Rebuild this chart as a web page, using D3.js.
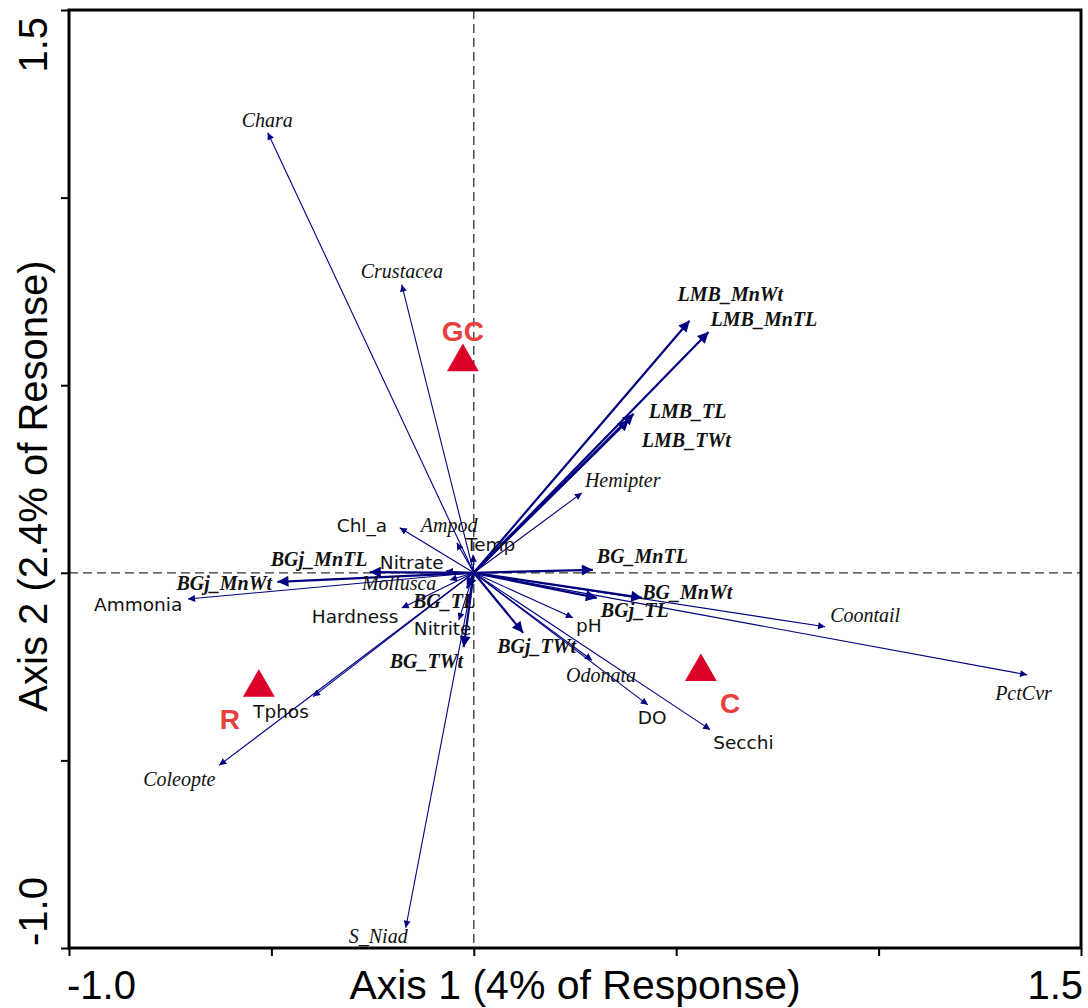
<!DOCTYPE html>
<html>
<head>
<meta charset="utf-8">
<script src="https://cdn.jsdelivr.net/npm/d3@7"></script>
<style>
  html, body { margin: 0; padding: 0; background: #fff; }
  svg { display: block; }
</style>
</head>
<body>
<svg id="chart" width="1088" height="1008"></svg>
<script>
// Biplot vectors: name, axis-1 score, axis-2 score, kind
// kind: "fish" = fish response (bold), "taxa" = invertebrate/plant taxa (italic), "env" = environmental variable
const vectorNames = [
  "Chara", "Crustacea", "LMB_MnWt", "LMB_MnTL", "LMB_TL", "LMB_TWt", "Hemipter",
  "Chl_a", "Ampod", "Temp", "Nitrate", "BGj_MnTL", "BGj_MnWt", "Ammonia", "Mollusca",
  "Hardness", "BG_TL", "Nitrite", "BG_TWt", "S_Niad", "Tphos", "Coleopte",
  "BG_MnTL", "BG_MnWt", "BGj_TL", "pH", "BGj_TWt", "Odonata", "DO", "Secchi",
  "Coontail", "PctCvr"
];
const axis1Scores = [
  -0.509, -0.178, 0.533, 0.580, 0.395, 0.383, 0.267,
  -0.183, -0.042, -0.002, -0.069, -0.257, -0.485, -0.706, -0.059,
  -0.178, -0.017, -0.037, -0.025, -0.168, -0.397, -0.629,
  0.294, 0.416, 0.304, 0.245, 0.122, 0.292, 0.430, 0.584,
  0.868, 1.367
];
const axis2Scores = [
  1.173, 0.768, 0.672, 0.642, 0.424, 0.408, 0.213,
  0.120, 0.080, 0.048, 0.005, 0.002, -0.024, -0.070, -0.019,
  -0.094, -0.041, -0.126, -0.198, -0.946, -0.330, -0.513,
  0.008, -0.067, -0.067, -0.120, -0.160, -0.233, -0.352, -0.418,
  -0.144, -0.272
];
const vectorKinds = [
  "taxa", "taxa", "fish", "fish", "fish", "fish", "taxa",
  "env", "taxa", "env", "env", "fish", "fish", "env", "taxa",
  "env", "fish", "env", "fish", "taxa", "env", "taxa",
  "fish", "fish", "fish", "env", "fish", "taxa", "env", "env",
  "taxa", "taxa"
];

// Site (group) centroids
const siteNames = ["GC", "C", "R"];
const siteAxis1 = [-0.027, 0.561, -0.531];
const siteAxis2 = [0.562, -0.264, -0.306];

// Axis settings
const axis1Domain = [-1.0, 1.5];
const axis2Domain = [-1.0, 1.5];
const tickValues = [-1.0, -0.5, 0, 0.5, 1.0, 1.5];
const endTickLabels = ["-1.0", "1.5"];
const axis1Title = "Axis 1 (4% of Response)";
const axis2Title = "Axis 2 (2.4% of Resonse)";

// Label placement (pixel offset from the arrow tip, text starts at this point)
const labelOffset = {
  Chara: [-26, -6], Crustacea: [-41, -7], LMB_MnWt: [-12, -20], LMB_MnTL: [2, -6],
  LMB_TL: [15, 4], LMB_TWt: [13, 27], Hemipter: [3, -6], Chl_a: [-63, 4],
  Ampod: [-36, -11], Temp: [-7, -4], Nitrate: [-66, -2], BGj_MnTL: [-99, -6],
  BGj_MnWt: [-101, 8], Ammonia: [-94, 12], Mollusca: [-88, 10], Hardness: [-90, 15],
  BG_TL: [-54, 20], Nitrite: [-45, 15], BG_TWt: [-74, 21], S_Niad: [-57, 15],
  Tphos: [-60, 21], Coleopte: [-76, 21], BG_MnTL: [4, -7], BG_MnWt: [0, 1],
  BGj_TL: [4, 19], pH: [3, 14], BGj_TWt: [-26, 20], Odonata: [-26, 22],
  DO: [-10, 19], Secchi: [3, 19], Coontail: [5, -5], PctCvr: [-32, 25]
};
const siteLabelOffset = { GC: [0, -21, "middle"], C: [19, 41, "start"], R: [-39, 41, "start"] };

const svg = d3.select("#chart");
const plot = { left: 69, right: 1081, top: 10, bottom: 948 };

const x = d3.scaleLinear().domain(axis1Domain).range([plot.left, plot.right]);
const y = d3.scaleLinear().domain(axis2Domain).range([plot.bottom, plot.top]);

const arrowColor = "#000080";

// Arrowhead markers
const defs = svg.append("defs");
defs.append("marker")
  .attr("id", "head-thin").attr("viewBox", "0 0 10 10")
  .attr("refX", 10).attr("refY", 5)
  .attr("markerUnits", "userSpaceOnUse")
  .attr("markerWidth", 11).attr("markerHeight", 7)
  .attr("orient", "auto")
  .append("path").attr("d", "M0,0 L10,5 L0,10 Z").attr("fill", arrowColor);
defs.append("marker")
  .attr("id", "head-bold").attr("viewBox", "0 0 10 10")
  .attr("refX", 10).attr("refY", 5)
  .attr("markerUnits", "userSpaceOnUse")
  .attr("markerWidth", 17).attr("markerHeight", 11)
  .attr("orient", "auto")
  .append("path").attr("d", "M0,0 L10,5 L0,10 Z").attr("fill", arrowColor);

// Zero reference lines
svg.append("line")
  .attr("x1", x(0)).attr("x2", x(0)).attr("y1", plot.top).attr("y2", plot.bottom)
  .attr("stroke", "#333").attr("stroke-width", 1.3).attr("stroke-dasharray", "9,5");
svg.append("line")
  .attr("x1", plot.left).attr("x2", plot.right).attr("y1", y(0)).attr("y2", y(0))
  .attr("stroke", "#333").attr("stroke-width", 1.3).attr("stroke-dasharray", "9,5");

// Vectors
const vectors = vectorNames.map((name, i) => ({
  name, a1: axis1Scores[i], a2: axis2Scores[i], kind: vectorKinds[i]
}));

svg.append("g").selectAll("line").data(vectors).join("line")
  .attr("x1", x(0)).attr("y1", y(0))
  .attr("x2", d => x(d.a1)).attr("y2", d => y(d.a2))
  .attr("stroke", arrowColor)
  .attr("stroke-width", d => d.kind === "fish" ? 2.2 : 1.1)
  .attr("marker-end", d => d.kind === "fish" ? "url(#head-bold)" : "url(#head-thin)");

svg.append("g").selectAll("text").data(vectors).join("text")
  .attr("x", d => x(d.a1) + labelOffset[d.name][0])
  .attr("y", d => y(d.a2) + labelOffset[d.name][1])
  .attr("fill", "#111")
  .attr("font-family", d => d.kind === "env" ? "'DejaVu Sans', sans-serif" : "'Liberation Serif', 'Times New Roman', serif")
  .attr("font-style", d => d.kind === "env" ? "normal" : "italic")
  .attr("font-weight", d => d.kind === "fish" ? "bold" : "normal")
  .attr("font-size", d => d.kind === "env" ? 18.5 : 20)
  .text(d => d.name);

// Site markers
const sites = siteNames.map((name, i) => ({ name, a1: siteAxis1[i], a2: siteAxis2[i] }));
const tri = d3.symbol().type(d3.symbolTriangle).size(440);
svg.append("g").selectAll("path").data(sites).join("path")
  .attr("transform", d => `translate(${x(d.a1)},${y(d.a2)})`)
  .attr("d", tri)
  .attr("fill", "#dc0028");
svg.append("g").selectAll("text").data(sites).join("text")
  .attr("x", d => x(d.a1) + siteLabelOffset[d.name][0])
  .attr("y", d => y(d.a2) + siteLabelOffset[d.name][1])
  .attr("text-anchor", d => siteLabelOffset[d.name][2])
  .attr("fill", "#e8403c")
  .attr("font-family", "'Liberation Sans', Arial, sans-serif")
  .attr("font-weight", "bold")
  .attr("font-size", 28)
  .text(d => d.name);

// Frame
svg.append("rect")
  .attr("x", plot.left).attr("y", plot.top)
  .attr("width", plot.right - plot.left).attr("height", plot.bottom - plot.top)
  .attr("fill", "none").attr("stroke", "#000").attr("stroke-width", 3);

// Tick marks
svg.append("g")
  .attr("transform", `translate(0,${plot.bottom})`)
  .call(d3.axisBottom(x).tickValues(tickValues).tickSize(8).tickFormat(""))
  .call(g => g.select(".domain").remove())
  .call(g => g.selectAll(".tick line").attr("stroke", "#000").attr("stroke-width", 2));
svg.append("g")
  .attr("transform", `translate(${plot.left},0)`)
  .call(d3.axisLeft(y).tickValues(tickValues).tickSize(8).tickFormat(""))
  .call(g => g.select(".domain").remove())
  .call(g => g.selectAll(".tick line").attr("stroke", "#000").attr("stroke-width", 2));

// End tick labels and axis titles
const axisFont = "'Liberation Sans', Arial, sans-serif";
const first = tickValues[0], last = tickValues[tickValues.length - 1];

svg.append("text").attr("x", x(first) - 2).attr("y", 999)
  .attr("font-family", axisFont).attr("font-size", 40).attr("fill", "#000")
  .attr("text-anchor", "start").text(endTickLabels[0]);
svg.append("text").attr("x", x(last) + 2).attr("y", 999)
  .attr("font-family", axisFont).attr("font-size", 40).attr("fill", "#000")
  .attr("text-anchor", "end").text(endTickLabels[1]);
svg.append("text").attr("x", 575).attr("y", 999)
  .attr("font-family", axisFont).attr("font-size", 41).attr("fill", "#000")
  .attr("text-anchor", "middle").text(axis1Title);

svg.append("text").attr("transform", `translate(47,${y(first) - 2}) rotate(-90)`)
  .attr("font-family", axisFont).attr("font-size", 40).attr("fill", "#000")
  .attr("text-anchor", "start").text(endTickLabels[0]);
svg.append("text").attr("transform", `translate(47,${y(last) + 7}) rotate(-90)`)
  .attr("font-family", axisFont).attr("font-size", 40).attr("fill", "#000")
  .attr("text-anchor", "end").text(endTickLabels[1]);
svg.append("text").attr("transform", `translate(47,486) rotate(-90)`)
  .attr("font-family", axisFont).attr("font-size", 40).attr("fill", "#000")
  .attr("text-anchor", "middle").text(axis2Title);
</script>
</body>
</html>
